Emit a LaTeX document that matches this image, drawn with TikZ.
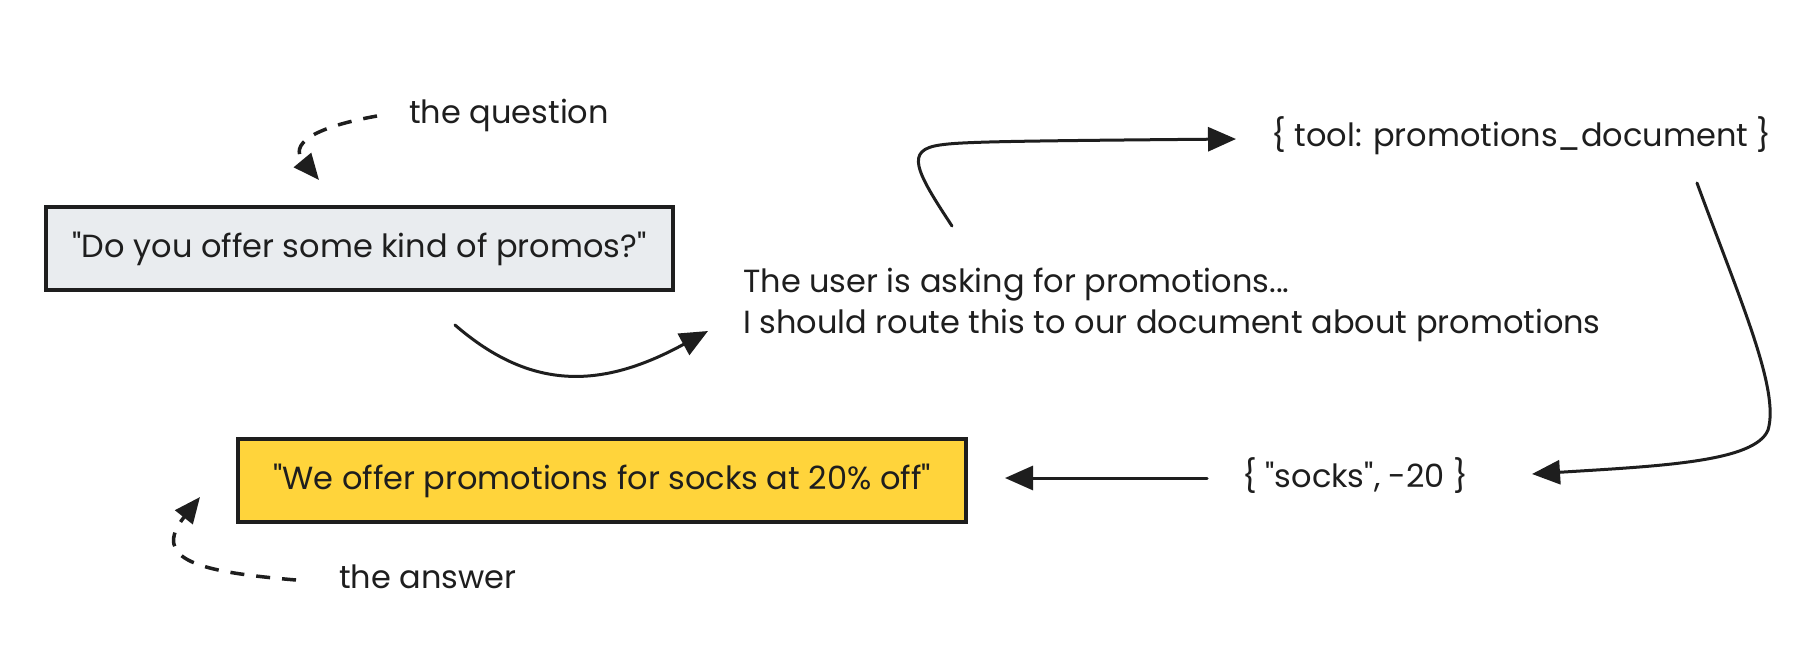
\documentclass[tikz,border=0pt]{standalone}
\usepackage{fontspec}
\setmainfont{Poppins}[Ligatures=TeXOff]
\usetikzlibrary{arrows.meta}
\definecolor{ink}{HTML}{1E1E1E}
\definecolor{greyfill}{HTML}{E9ECEF}
\definecolor{yellowfill}{HTML}{FFD43B}
\tikzset{
  txt/.style={font=\fontsize{32}{41}\selectfont, text=ink, inner sep=0pt},
  boxq/.style={draw=ink, line width=3.5pt, fill=greyfill, txt, minimum width=627pt, minimum height=83pt},
  boxa/.style={draw=ink, line width=3.5pt, fill=yellowfill, txt, minimum width=728pt, minimum height=83pt},
  conn/.style={draw=ink, line width=3pt, line cap=round, -{Triangle[length=28pt,width=24pt]}},
  dconn/.style={draw=ink, line width=3.5pt, dash pattern=on 14pt off 12pt, -{Triangle[length=26pt,width=22pt]}},
}
\begin{document}
\begin{tikzpicture}[x=1pt,y=-1pt]
\useasboundingbox[fill=white] (0,0) rectangle (1820,658);

\node[boxq] (q) at (359.5,248.5) {"Do you offer some kind of promos?"};
\node[boxa] (a) at (602,480.5) {"We offer promotions for socks at 20\% off"};

\node[txt, anchor=west] (ql) at (409,115) {the question};
\node[txt, anchor=west] (al) at (339,577) {the answer};
\node[txt, anchor=west, align=left] (th) at (743,304.5) {The user is asking for promotions...\\I should route this to our document about promotions};
\node[txt, anchor=west] (tool) at (1271,136) {\{ tool: promotions\_document \}};
\node[txt, anchor=west] (socks) at (1242,476) {\{ "socks", -20 \}};

\coordinate (qs) at (377,116);
\coordinate (qe) at (319,180);
\coordinate (as) at (296,580);
\coordinate (ae) at (200,497);
\coordinate (c1s) at (455,325);
\coordinate (c1e) at (708,331);
\coordinate (c2s) at (952,226);
\coordinate (c2e) at (1236,139);
\coordinate (c3s) at (1697,183);
\coordinate (c3e) at (1532,474);
\coordinate (c4s) at (1207,478);
\coordinate (c4e) at (1005,478);

\draw[dconn] (qs) .. controls (310,128) and (290,145) .. (qe);
\draw[dconn] (as) .. controls (200,572) and (150,560) .. (ae);
\draw[conn] (c1s) .. controls (530,390) and (600,390) .. (c1e);
\draw[conn] (c2s) .. controls (915,170) and (905,150) .. (940,145) .. controls (960,142) and (1000,141) .. (c2e);
\draw[conn] (c3s) .. controls (1740,300) and (1780,390) .. (1768,430) .. controls (1755,462) and (1660,466) .. (c3e);
\draw[conn] (c4s) -- (c4e);
\end{tikzpicture}
\end{document}
